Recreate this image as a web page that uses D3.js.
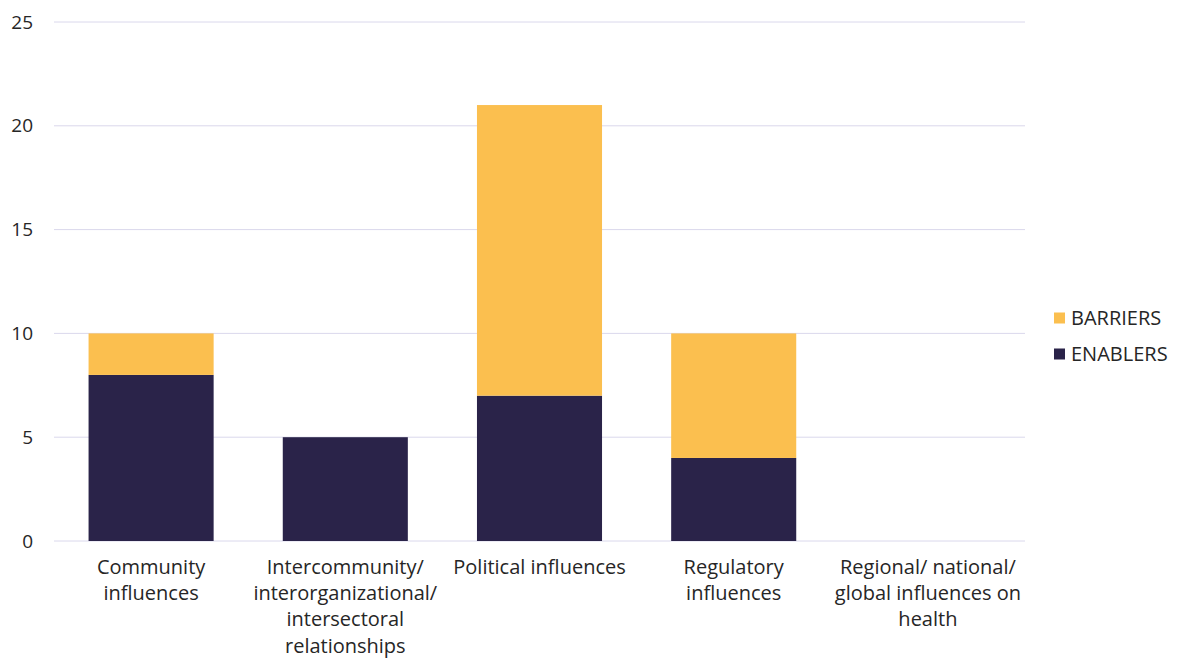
<!DOCTYPE html>
<html><head><meta charset="utf-8">
<script src="https://cdn.jsdelivr.net/npm/d3@7"></script>
<style>body{margin:0;background:#fff;} text{font-family:"Open Sans","Noto Sans",sans-serif;fill:#262626;}</style>
</head><body><svg id="c" width="1178" height="659"></svg>
<script>
const categories = [
  ["Community","influences"],
  ["Intercommunity/","interorganizational/","intersectoral","relationships"],
  ["Political influences"],
  ["Regulatory","influences"],
  ["Regional/ national/","global influences on","health"]
];
const enablers = [8, 5, 7, 4, 0];
const barriers = [2, 0, 14, 6, 0];
const yTicks = [0, 5, 10, 15, 20, 25];
const seriesNames = ["BARRIERS", "ENABLERS"];
const colors = {ENABLERS: "#2a2349", BARRIERS: "#fbbf4f"};

const svg = d3.select("#c");
const x = d3.scaleBand().domain(d3.range(categories.length)).range([54, 1025]).paddingInner(0.356).paddingOuter(0.178);
const y = d3.scaleLinear().domain([0, 25]).range([541, 22]);

svg.append("g").selectAll("line").data(yTicks).join("line")
  .attr("x1", 54).attr("x2", 1025)
  .attr("y1", d => y(d)).attr("y2", d => y(d))
  .attr("stroke", "#dad8ec").attr("stroke-width", 1);

svg.append("g").selectAll("text").data(yTicks).join("text")
  .attr("x", 33).attr("y", d => y(d)).attr("dy", "0.35em")
  .attr("text-anchor", "end").attr("font-size", 19).text(d => d);

const data = categories.map((c, i) => ({i, ENABLERS: enablers[i], BARRIERS: barriers[i]}));
const stack = d3.stack().keys(["ENABLERS", "BARRIERS"])(data);
svg.append("g").selectAll("g").data(stack).join("g")
  .attr("fill", d => colors[d.key])
  .selectAll("rect").data(d => d).join("rect")
  .attr("x", d => x(d.data.i)).attr("width", x.bandwidth())
  .attr("y", d => y(d[1])).attr("height", d => y(d[0]) - y(d[1]));

const lab = svg.append("g").selectAll("text").data(categories).join("text")
  .attr("text-anchor", "middle").attr("font-size", 20)
  .attr("transform", (d, i) => `translate(${x(i) + x.bandwidth()/2},574)`);
lab.selectAll("tspan").data(d => d).join("tspan")
  .attr("x", 0).attr("dy", (d, j) => j === 0 ? 0 : 26.2).text(d => d);

const leg = svg.append("g").selectAll("g").data(seriesNames).join("g")
  .attr("transform", (d, i) => `translate(1054,${318 + i * 36})`);
leg.append("rect").attr("x", 0).attr("y", -5.5).attr("width", 11).attr("height", 11).attr("fill", d => colors[d]);
leg.append("text").attr("x", 17).attr("dy", "0.35em").attr("font-size", 20).text(d => d);
</script></body></html>
